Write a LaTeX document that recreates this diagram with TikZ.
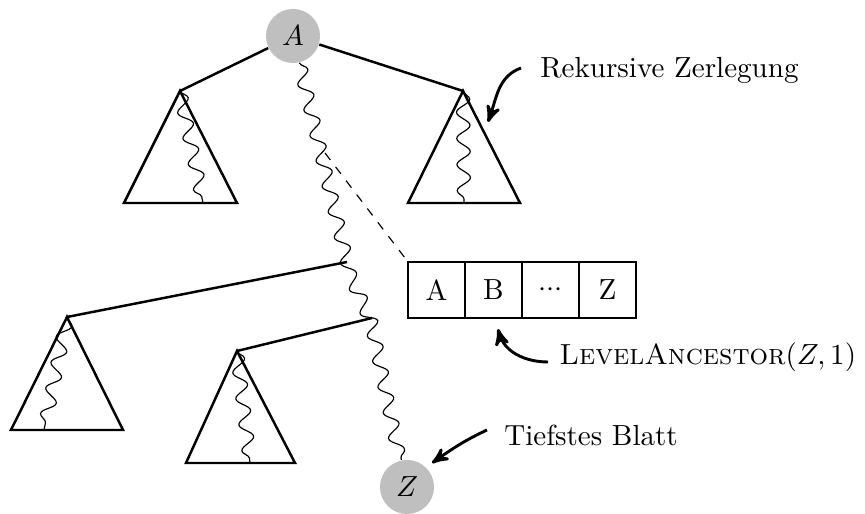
\documentclass[tikz,border=0pt]{standalone}
\usepackage{amsmath, amssymb}
\usepackage{tikz}
\usetikzlibrary{arrows,positioning,decorations.pathmorphing}

\begin{document}
\begin{tikzpicture}[x=0.344pt,y=0.344pt,>=stealth',
	graynode/.style={circle,fill=black!25,minimum size=18.6pt,inner sep=0pt},
	cellnode/.style={rectangle,draw,minimum width=19.6pt,minimum height=19.3pt,inner sep=0pt,outer sep=0pt},
	treeedge/.style={line width=0.85pt},
	wavy/.style={decorate,decoration={snake,amplitude=2.3pt,segment length=9pt}},
	pointer/.style={->,line width=1pt}]
	
	\useasboundingbox (0,0) rectangle (865,514);
	
	\node [graynode] (A) at (293, 478) {$A$};
	\node [graynode] (Z) at (407, 27) {$Z$};
	
	\coordinate (tl) at (180, 423);
	\coordinate (tr) at (463, 423);
	\coordinate (j1) at (347, 252);
	\coordinate (j2) at (372, 196);
	\coordinate (bl) at (67, 197);
	\coordinate (bm) at (237, 163);
	\coordinate (d) at (325, 361);
	
	% teilbaeume
	\draw [treeedge] (tl) -- (124, 311) -- (237, 311) -- cycle;
	\draw [treeedge] (tr) -- (408, 311) -- (520, 311) -- cycle;
	\draw [treeedge] (bl) -- (11, 84) -- (123, 84) -- cycle;
	\draw [treeedge] (bm) -- (186, 51) -- (295, 51) -- cycle;
	
	\draw [treeedge] (A) to (tl);
	\draw [treeedge] (A) to (tr);
	\draw [treeedge] (j1) to (bl);
	\draw [treeedge] (j2) to (bm);
	
	% pfade
	\draw [wavy] (A) -- (j1) -- (j2) -- (Z);
	\draw [wavy] (tl) -- (203, 311);
	\draw [wavy] (tr) -- (464, 311);
	\draw [wavy] (bl) -- (44, 84);
	\draw [wavy] (bm) -- (250, 51);
	
	% array
	\node [cellnode] (cA) at (436.5, 224) {A};
	\node [cellnode, right=0pt of cA] (cB) {B};
	\node [cellnode, right=0pt of cB] (cD) {${\cdot}{\cdot}{\cdot}$};
	\node [cellnode, right=0pt of cD] (cZ) {Z};
	\draw [dashed, thin] (d) to (cA.north west);
	
	% beschriftungen
	\node [anchor=west] (rek) at (530, 444) {Rekursive Zerlegung};
	\node [anchor=west] (la) at (549, 157) {\textsc{LevelAncestor}$(Z,1)$};
	\node [anchor=west] (tb) at (494, 79) {Tiefstes Blatt};
	
	\coordinate (rek0) at (521, 446);
	\coordinate (la0) at (548, 152);
	\coordinate (tb0) at (487, 84);
	\draw [pointer, out=200, in=70] (rek0) to (488, 392);
	\draw [pointer, out=180, in=-75] (la0) to (498, 185);
	\draw [pointer, out=205, in=35] (tb0) to (432, 51);
\end{tikzpicture}
\end{document}
